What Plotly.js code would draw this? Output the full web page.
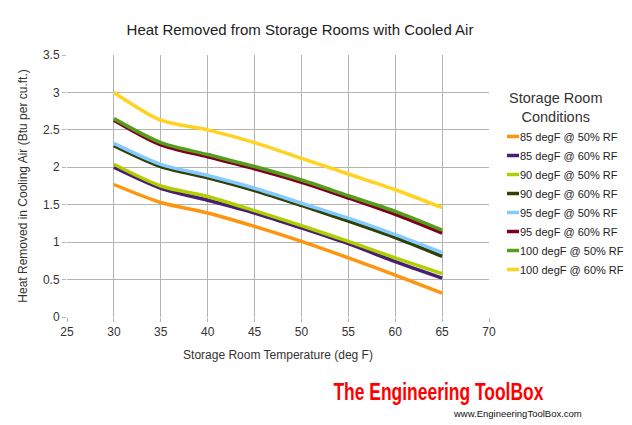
<!DOCTYPE html>
<html>
<head>
<meta charset="utf-8">
<script src="https://cdn.plot.ly/plotly-3.0.1.min.js"></script>
<style>
  html, body { margin: 0; padding: 0; background: #fff; }
  #chart { width: 632px; height: 425px; }
</style>
</head>
<body>
<div id="chart"></div>
<script>
// Storage room temperature (deg F)
const temperatures = [30, 35, 40, 45, 50, 55, 60, 65];

// Heat removed in cooling air (Btu per cu.ft.) for each outdoor condition
const seriesNames = [
  "85 degF @ 50% RF",
  "85 degF @ 60% RF",
  "90 degF @ 50% RF",
  "90 degF @ 60% RF",
  "95 degF @ 50% RF",
  "95 degF @ 60% RF",
  "100 degF @ 50% RF",
  "100 degF @ 60% RF"
];
const heat85at50  = [1.77, 1.53, 1.39, 1.21, 1.01, 0.79, 0.56, 0.32];
const heat85at60  = [2.00, 1.72, 1.56, 1.39, 1.19, 0.98, 0.74, 0.52];
const heat90at50  = [2.04, 1.75, 1.61, 1.42, 1.22, 1.01, 0.79, 0.58];
const heat90at60  = [2.29, 2.01, 1.86, 1.69, 1.49, 1.28, 1.06, 0.81];
const heat95at50  = [2.32, 2.04, 1.89, 1.72, 1.52, 1.32, 1.10, 0.86];
const heat95at60  = [2.63, 2.30, 2.14, 1.98, 1.80, 1.59, 1.37, 1.12];
const heat100at50 = [2.65, 2.33, 2.17, 2.01, 1.83, 1.62, 1.41, 1.16];
const heat100at60 = [3.00, 2.63, 2.50, 2.33, 2.12, 1.91, 1.70, 1.46];

const seriesValues = [heat85at50, heat85at60, heat90at50, heat90at60,
                      heat95at50, heat95at60, heat100at50, heat100at60];
const seriesColors = ["#ff950e", "#4b1f6f", "#aecf00", "#314004",
                      "#83caff", "#7e0021", "#579d1c", "#ffd320"];

const traces = seriesNames.map((name, i) => ({
  type: "scatter",
  mode: "lines",
  name: name,
  x: temperatures,
  y: seriesValues[i],
  line: { color: seriesColors[i], width: 3.5, shape: "spline", smoothing: 0.8 }
}));

const font = "Liberation Sans, Arial, sans-serif";

// plot area in pixels: x 67..489, y 55..317
const W = 632, H = 425;
const plotL = 67, plotR = 489, plotT = 55, plotB = 317;
const px = v => (v - plotL) / (plotR - plotL);
const py = v => (plotB - v) / (plotB - plotT);

const layout = {
  width: W,
  height: H,
  margin: { l: plotL, r: W - plotR, t: plotT, b: H - plotB, autoexpand: false },
  paper_bgcolor: "#ffffff",
  plot_bgcolor: "#ffffff",
  font: { family: font, size: 12, color: "#333333" },
  title: {
    text: "Heat Removed from Storage Rooms with Cooled Air",
    font: { family: font, size: 15, color: "#222222" },
    x: 300 / W, xanchor: "center",
    y: 1 - 30 / H, yanchor: "middle"
  },
  xaxis: {
    range: [25, 70],
    tick0: 25, dtick: 5,
    showgrid: true, gridcolor: "#b3b3b3", gridwidth: 1,
    zeroline: false, showline: false,
    ticks: "outside", ticklen: 4, tickcolor: "#b3b3b3",
    tickfont: { family: font, size: 12, color: "#333333" },
    title: { text: "Storage Room Temperature (deg F)", font: { family: font, size: 12, color: "#333333" }, standoff: 12 },
    fixedrange: true
  },
  yaxis: {
    range: [0, 3.5],
    tick0: 0, dtick: 0.5,
    showgrid: true, gridcolor: "#b3b3b3", gridwidth: 1,
    zeroline: false, showline: false,
    ticks: "outside", ticklen: 4, tickcolor: "#b3b3b3",
    tickfont: { family: font, size: 12, color: "#333333" },
    title: { text: "Heat Removed in Cooling Air (Btu per cu.ft.)", font: { family: font, size: 12, color: "#333333" }, standoff: 12 },
    fixedrange: true
  },
  legend: {
    x: px(480), xanchor: "left",
    y: py(122), yanchor: "top",
    bgcolor: "rgba(0,0,0,0)",
    font: { family: font, size: 11, color: "#222222" },
    tracegroupgap: 0,
    itemwidth: 30
  },
  showlegend: true,
  annotations: [
    {
      xref: "paper", yref: "paper",
      x: px(556), xanchor: "center",
      y: py(107), yanchor: "middle",
      text: "Storage Room<br>Conditions",
      showarrow: false,
      font: { family: font, size: 14.5, color: "#333333" }
    },
    {
      xref: "paper", yref: "paper",
      x: px(438), xanchor: "center",
      y: py(392), yanchor: "middle",
      text: "<b>The Engineering ToolBox</b>",
      showarrow: false,
      font: { family: font, size: 23, color: "#ff0000" }
    },
    {
      xref: "paper", yref: "paper",
      x: px(451), xanchor: "left",
      y: py(413), yanchor: "middle",
      text: "www.EngineeringToolBox.com",
      showarrow: false,
      font: { family: font, size: 9.5, color: "#111111" }
    }
  ]
};

Plotly.newPlot("chart", traces, layout, { displayModeBar: false, staticPlot: true }).then(gd => {
  // short legend swatches sitting right before the labels
  gd.querySelectorAll(".legend .legendlines path").forEach(p => p.setAttribute("d", "M27,0h12"));
  // condensed logo lettering
  const logo = gd.querySelectorAll(".annotation-text")[1];
  if (logo) {
    logo.setAttribute("textLength", "210");
    logo.setAttribute("lengthAdjust", "spacingAndGlyphs");
  }
});
</script>
</body>
</html>
